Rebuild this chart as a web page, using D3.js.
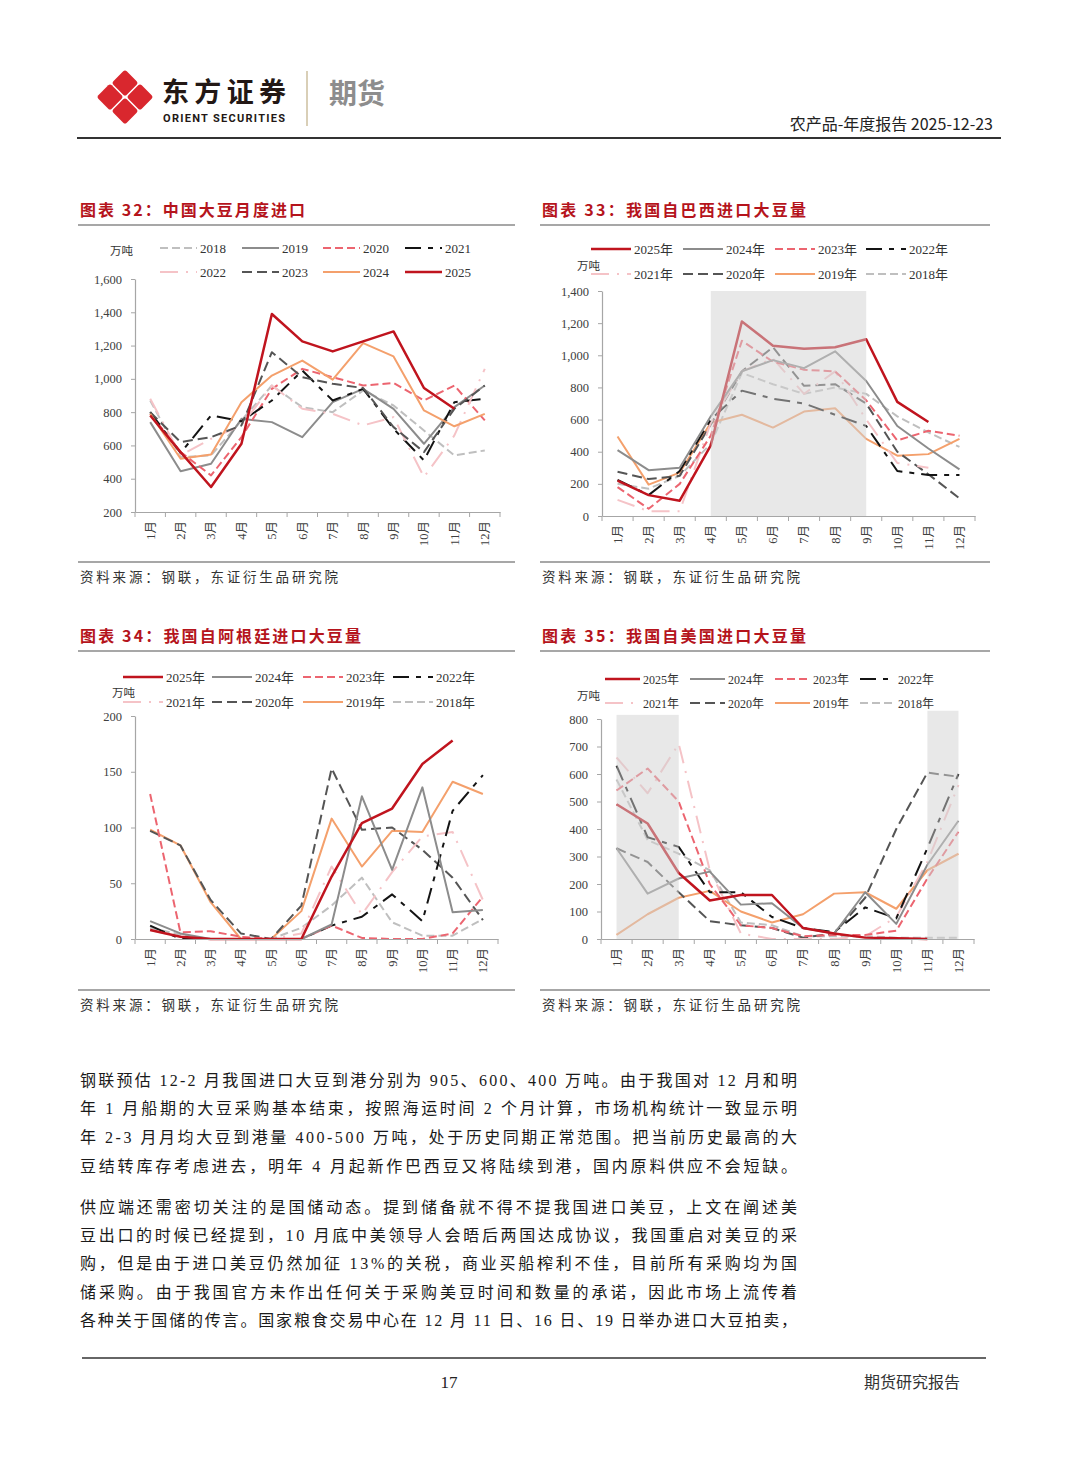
<!DOCTYPE html>
<meta charset="utf-8">
<style>
  body { margin: 0; background: #fff; }
  svg text { font-family: "Liberation Serif", "Noto Sans CJK SC", serif; }
  .cjk { font-family: "Noto Sans CJK SC", sans-serif !important; }
</style>
<svg id="page" width="1080" height="1466"></svg>
<script src="https://d3js.org/d3.v7.min.js"></script>
<script>

// ---- data (万吨) ----
var months = ["1月","2月","3月","4月","5月","6月","7月","8月","9月","10月","11月","12月"];

// 图表32: 中国大豆月度进口, legend order 2018 -> 2025
var totalYears = ["2018","2019","2020","2021","2022","2023","2024","2025"];
var totalRows = [
  [870, 530, 540, 750, 960, 830, 800, 930, 840, 690, 540, 570],
  [740, 445, 490, 760, 740, 650, 860, 940, 820, 610, 830, 960],
  [790, 560, 420, 650, 940, 1060, 1010, 960, 975, 870, 960, 750],
  [800, 555, 780, 745, 870, 1050, 870, 940, 700, 510, 860, 880],
  [880, 540, 640, 720, 960, 820, 790, 720, 770, 410, 660, 1060],
  [800, 620, 650, 720, 1160, 1010, 970, 945, 710, 560, 820, 960],
  [790, 520, 545, 860, 1020, 1110, 995, 1215, 1135, 810, 715, 790],
  [780, 560, 350, 610, 1390, 1225, 1165, 1225, 1285, 945, 820, null]
];
var totalTicks = [200, 400, 600, 800, 1000, 1200, 1400, 1600];

// 图表33-35 legend order 2025 -> 2018
var originYears = ["2025年","2024年","2023年","2022年","2021年","2020年","2019年","2018年"];

// 图表33: 自巴西进口
var brazilRows = [
  [220, 130, 95, 440, 1210, 1060, 1040, 1050, 1100, 710, 585, null],
  [410, 285, 300, 620, 900, 970, 920, 1025, 840, 560, 420, 290],
  [180, 45, 200, 500, 1090, 960, 910, 900, 720, 470, 530, 500],
  [225, 130, 280, 600, 780, 730, 700, 630, 560, 280, 255, 255],
  [100, 30, 30, 580, 900, 980, 760, 900, 600, 330, 300, null],
  [275, 230, 250, 570, 900, 1050, 810, 820, 700, 400, 260, 110],
  [495, 195, 270, 580, 630, 550, 650, 670, 480, 375, 385, 480],
  [200, 170, 250, 450, 890, 820, 760, 800, 760, 620, 520, 430]
];
var brazilTicks = [0, 200, 400, 600, 800, 1000, 1200, 1400];

// 图表34: 自阿根廷进口
var argRows = [
  [8, 2, 0, 0, 0, 0, 56, 104, 117, 157, 178, null],
  [16, 5, 0, 0, 0, 0, 13, 128, 62, 136, 24, 26],
  [130, 6, 7, 2, 0, 0, 12, 1, 0, 0, 5, 38],
  [12, 0, 0, 0, 0, 0, 12, 20, 40, 16, 115, 147],
  [8, 2, 0, 0, 0, 5, 65, 22, 60, 92, 96, 35],
  [97, 84, 35, 5, 0, 30, 153, 98, 100, 80, 55, 17],
  [98, 84, 33, 0, 0, 25, 108, 65, 97, 96, 141, 130],
  [10, 4, 0, 0, 0, 10, 30, 55, 15, 3, 3, 18]
];
var argTicks = [0, 50, 100, 150, 200];

// 图表35: 自美国进口
var usRows = [
  [490, 420, 240, 140, 160, 160, 40, 20, 5, 3, 0, null],
  [330, 165, 220, 245, 125, 130, 40, 20, 170, 55, 270, 430],
  [540, 620, 500, 200, 50, 40, 10, 15, 15, 30, 220, 390],
  [630, 370, 335, 170, 170, 80, 40, 25, 115, 75, 330, 600],
  [660, 530, 710, 250, 20, 0, 0, 0, 10, 80, 280, 560],
  [330, 280, 170, 65, 50, 40, 5, 20, 150, 400, 605, 590],
  [15, 90, 150, 175, 100, 60, 90, 165, 170, 110, 250, 310],
  [580, 360, 310, 250, 60, 50, 10, 10, 10, 5, 5, 5]
];
var usTicks = [0, 100, 200, 300, 400, 500, 600, 700, 800];

// ---- styles ----
var RED = "#c0141e", GRAY = "#8c8c8c", PINKRED = "#ec6570", BLACK = "#141414",
    LPINK = "#f5c3c7", DGRAY = "#555555", ORANGE = "#f4a06c", LGRAY = "#bfbfbf";

var styleTotal = [
  {c: LGRAY, d: "8,4", w: 2},
  {c: GRAY, d: null, w: 2},
  {c: PINKRED, d: "8,4", w: 2},
  {c: BLACK, d: "16,7,5,7", w: 2},
  {c: LPINK, d: "18,8,2,8", w: 2},
  {c: DGRAY, d: "10,5", w: 2},
  {c: ORANGE, d: null, w: 2},
  {c: RED, d: null, w: 2.5}
];
var styleOrigin = [
  {c: RED, d: null, w: 2.5},
  {c: GRAY, d: null, w: 2},
  {c: PINKRED, d: "8,4", w: 2},
  {c: BLACK, d: "16,7,5,7", w: 2},
  {c: LPINK, d: "18,8,2,8", w: 2},
  {c: DGRAY, d: "10,5", w: 2},
  {c: ORANGE, d: null, w: 2},
  {c: LGRAY, d: "8,4", w: 2}
];

var svg = d3.select("#page");

// ---- header ----
var logo = svg.append("g").attr("transform", "translate(125,97)");
[[0, -14], [-15, 0], [15, 0], [0, 14]].forEach(function (p) {
  logo.append("rect")
    .attr("x", -9.5).attr("y", -9.5).attr("width", 19).attr("height", 19).attr("rx", 2.5)
    .attr("fill", "#d9272e")
    .attr("transform", "translate(" + p[0] + "," + p[1] + ") rotate(45)");
});
svg.append("text").attr("class", "cjk").attr("x", 162).attr("y", 102)
  .attr("font-size", 27).attr("font-weight", 700).attr("fill", "#231815")
  .attr("textLength", 124).text("东方证券");
svg.append("text").attr("x", 163).attr("y", 122)
  .style("font-family", "Roboto, 'Liberation Sans', sans-serif")
  .attr("font-size", 11).attr("font-weight", 700).attr("fill", "#231815")
  .attr("textLength", 122).text("ORIENT SECURITIES");
svg.append("line").attr("x1", 307).attr("x2", 307).attr("y1", 71).attr("y2", 126)
  .attr("stroke", "#cdbf9f").attr("stroke-width", 1.5);
svg.append("text").attr("class", "cjk").attr("x", 329).attr("y", 104)
  .attr("font-size", 28).attr("font-weight", 700).attr("fill", "#8d8d8d").text("期货");
svg.append("text").attr("class", "cjk").attr("x", 993).attr("y", 130)
  .attr("text-anchor", "end").attr("font-size", 16).attr("fill", "#222")
  .text("农产品-年度报告 2025-12-23");
svg.append("line").attr("x1", 77).attr("x2", 1001).attr("y1", 138).attr("y2", 138)
  .attr("stroke", "#333").attr("stroke-width", 2);

// ---- chart frames ----
function frame(fx, fw, titleY, srcY, title, titleW) {
  svg.append("text").attr("class", "cjk").attr("x", fx + 2).attr("y", titleY)
    .attr("font-size", 16).attr("font-weight", 700).attr("fill", "#b5141c")
    .attr("textLength", titleW).text(title);
  svg.append("line").attr("x1", fx).attr("x2", fx + fw).attr("y1", titleY + 9).attr("y2", titleY + 9)
    .attr("stroke", "#8a8a8a").attr("stroke-width", 1.5);
  svg.append("line").attr("x1", fx).attr("x2", fx + fw).attr("y1", srcY - 20).attr("y2", srcY - 20)
    .attr("stroke", "#8a8a8a").attr("stroke-width", 1.5);
  svg.append("text").attr("class", "cjk").attr("x", fx + 2).attr("y", srcY)
    .attr("font-size", 13.5).attr("fill", "#333").attr("textLength", 258)
    .text("资料来源：钢联，东证衍生品研究院");
}

function drawChart(o) {
  var g = svg.append("g");
  var x = d3.scaleBand().domain(months).range([o.x0, o.x1]);
  var y = d3.scaleLinear().domain([o.ticks[0], o.ticks[o.ticks.length - 1]]).range([o.y0, o.y1]);
  var cx = function (i) { return x(months[i]) + x.bandwidth() / 2; };

  var line = d3.line()
    .defined(function (d) { return d != null; })
    .x(function (d, i) { return cx(i); })
    .y(function (d) { return y(d); });

  var order = d3.range(o.rows.length);
  if (o.reverse) order.reverse();
  order.forEach(function (k) {
    var s = o.styles[k];
    g.append("path").datum(o.rows[k])
      .attr("d", line)
      .attr("fill", "none")
      .attr("stroke", s.c)
      .attr("stroke-width", s.w)
      .attr("stroke-dasharray", s.d)
      .attr("stroke-linejoin", "round");
  });

  // shaded seasons drawn over the lines, like the original
  (o.shades || []).forEach(function (sh) {
    g.append("rect")
      .attr("x", cx(sh[0])).attr("width", cx(sh[1]) - cx(sh[0]))
      .attr("y", y(sh[2])).attr("height", y(o.ticks[0]) - y(sh[2]))
      .attr("fill", "#d2d2d2").attr("opacity", 0.5);
  });

  var ya = g.append("g").attr("transform", "translate(" + o.x0 + ",0)")
    .call(d3.axisLeft(y).tickValues(o.ticks).tickSize(4).tickSizeOuter(0).tickPadding(9)
      .tickFormat(d3.format(",")));
  var xa = g.append("g").attr("transform", "translate(0," + o.y0 + ")")
    .call(d3.axisBottom(x).tickSize(0).tickSizeOuter(0));
  xa.selectAll("text")
    .attr("transform", "rotate(-90)")
    .attr("text-anchor", "end")
    .attr("x", -9).attr("y", 0).attr("dy", "0.35em");
  xa.selectAll(".bt").data(d3.range(months.length + 1)).enter().append("line")
    .attr("x1", function (k) { return x.range()[0] + k * x.step(); })
    .attr("x2", function (k) { return x.range()[0] + k * x.step(); })
    .attr("y1", 0).attr("y2", 5).attr("stroke", "#a6a6a6");
  [ya, xa].forEach(function (a) {
    a.select(".domain").attr("stroke", "#a6a6a6").attr("stroke-width", 1.2);
    a.selectAll(".tick line").attr("stroke", "#a6a6a6");
    a.selectAll("text").attr("font-size", 12.5).attr("fill", "#404040")
      .style("font-family", "'Liberation Serif', 'Noto Sans CJK SC', serif");
  });

  // unit + legend
  g.append("text").attr("class", "cjk").attr("x", o.unit[0]).attr("y", o.unit[1])
    .attr("font-size", 11.5).attr("fill", "#333").text("万吨");
  o.names.forEach(function (n, k) {
    var s = o.styles[k];
    var lx = o.lx[k % 4], ly = o.ly[Math.floor(k / 4)];
    g.append("line").attr("x1", lx).attr("x2", lx + o.len).attr("y1", ly).attr("y2", ly)
      .attr("stroke", s.c).attr("stroke-width", s.w).attr("stroke-dasharray", s.d);
    g.append("text").attr("x", lx + o.len + 3).attr("y", ly + 4.5)
      .attr("font-size", o.lfs).attr("fill", "#333").text(n);
  });
}

frame(78, 437, 216, 582, "图表 32：中国大豆月度进口", 225);
frame(540, 450, 216, 582, "图表 33：我国自巴西进口大豆量", 264);
frame(78, 437, 642, 1010, "图表 34：我国自阿根廷进口大豆量", 281);
frame(540, 450, 642, 1010, "图表 35：我国自美国进口大豆量", 264);

drawChart({rows: totalRows, names: totalYears, styles: styleTotal, ticks: totalTicks,
  x0: 135, x1: 500, y0: 512, y1: 279, reverse: false,
  unit: [110, 255], lx: [160, 242, 323, 405], ly: [248, 272], len: 37, lfs: 13});
drawChart({rows: brazilRows, names: originYears, styles: styleOrigin, ticks: brazilTicks,
  x0: 602, x1: 975, y0: 516, y1: 291, reverse: true, shades: [[3, 8, 1400]],
  unit: [577, 270], lx: [591, 683, 775, 866], ly: [249, 274], len: 40, lfs: 13});
drawChart({rows: argRows, names: originYears, styles: styleOrigin, ticks: argTicks,
  x0: 135, x1: 498, y0: 939, y1: 716, reverse: true,
  unit: [112, 697], lx: [123, 212, 303, 393], ly: [677, 702], len: 40, lfs: 13});
drawChart({rows: usRows, names: originYears, styles: styleOrigin, ticks: usTicks,
  x0: 601, x1: 974, y0: 939, y1: 719, reverse: true, shades: [[0, 2, 815], [10, 11, 830]],
  unit: [577, 700], lx: [605, 690, 775, 860], ly: [679, 703], len: 35, lfs: 12});

// ---- body text ----
var bodyLines = [
  ["钢联预估 12-2 月我国进口大豆到港分别为 905、600、400 万吨。由于我国对 12 月和明", 1086],
  ["年 1 月船期的大豆采购基本结束，按照海运时间 2 个月计算，市场机构统计一致显示明", 1114],
  ["年 2-3 月月均大豆到港量 400-500 万吨，处于历史同期正常范围。把当前历史最高的大", 1143],
  ["豆结转库存考虑进去，明年 4 月起新作巴西豆又将陆续到港，国内原料供应不会短缺。", 1172],
  ["供应端还需密切关注的是国储动态。提到储备就不得不提我国进口美豆，上文在阐述美", 1213],
  ["豆出口的时候已经提到，10 月底中美领导人会晤后两国达成协议，我国重启对美豆的采", 1241],
  ["购，但是由于进口美豆仍然加征 13%的关税，商业买船榨利不佳，目前所有采购均为国", 1269],
  ["储采购。由于我国官方未作出任何关于采购美豆时间和数量的承诺，因此市场上流传着", 1298],
  ["各种关于国储的传言。国家粮食交易中心在 12 月 11 日、16 日、19 日举办进口大豆拍卖，", 1326]
];
bodyLines.forEach(function (l) {
  svg.append("text").attr("x", 80).attr("y", l[1])
    .attr("font-size", 16).attr("fill", "#1a1a1a")
    .attr("textLength", 717).attr("lengthAdjust", "spacing").text(l[0]);
});

// ---- footer ----
svg.append("line").attr("x1", 82).attr("x2", 986).attr("y1", 1358).attr("y2", 1358)
  .attr("stroke", "#333").attr("stroke-width", 1.5);
svg.append("text").attr("x", 449).attr("y", 1388).attr("text-anchor", "middle")
  .attr("font-size", 17).attr("fill", "#222").text("17");
svg.append("text").attr("class", "cjk").attr("x", 960).attr("y", 1388).attr("text-anchor", "end")
  .attr("font-size", 16).attr("fill", "#333").text("期货研究报告");

</script>
